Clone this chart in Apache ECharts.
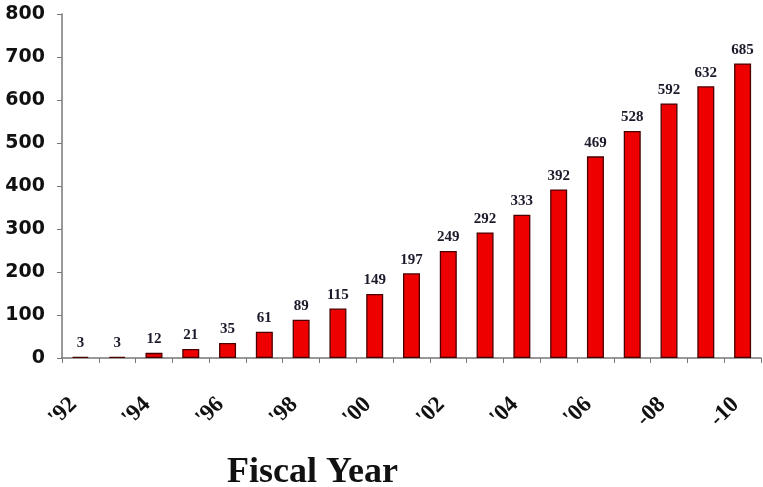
<!DOCTYPE html>
<html><head><meta charset="utf-8">
<script src="https://cdn.jsdelivr.net/npm/echarts@6/dist/echarts.min.js"></script>
<style>html,body{margin:0;padding:0;background:#fff}#c{width:763px;height:487px}</style>
</head><body><div id="c"></div>
<script>
const categories = ["'92","'93","'94","'95","'96","'97","'98","'99","'00","'01","'02","'03","'04","'05","'06","'07","-08","'09","-10"];
const values = [3,3,12,21,35,61,89,115,149,197,249,292,333,392,469,528,592,632,685];
const axisTitle = 'Fiscal Year';

const chart = echarts.init(document.getElementById('c'));
chart.setOption({
  animation: false,
  grid: {left: 62, right: 2, top: 14, bottom: 129, containLabel: false},
  title: {text: axisTitle, left: 222, top: 450,
    textStyle: {fontFamily: 'Liberation Serif', fontWeight: 'bold', fontSize: 36, color: '#111'}},
  xAxis: {
    type: 'category', data: categories,
    axisLine: {lineStyle: {color: '#777', width: 1.5}},
    axisTick: {show: true, alignWithLabel: false, interval: 0, length: 5, lineStyle: {color: '#777'}},
    axisLabel: {interval: 1, rotate: 45, margin: 36, padding: [0, 10, 0, 0],
      fontFamily: 'Liberation Serif', fontWeight: 'bold', fontSize: 23, color: '#111'}
  },
  yAxis: {
    type: 'value', min: 0, max: 800, interval: 100,
    axisLine: {show: true, lineStyle: {color: '#777', width: 1.5}},
    axisTick: {show: true, inside: false, length: 5, lineStyle: {color: '#777'}},
    splitLine: {show: false},
    axisLabel: {margin: 17, fontFamily: 'DejaVu Sans', fontWeight: 'bold', fontSize: 19, color: '#111'}
  },
  series: [{
    type: 'bar', data: values, barWidth: 17,
    itemStyle: {color: '#ee0000', borderColor: '#4a0000', borderWidth: 1.3},
    label: {show: true, position: 'top', distance: 6,
      fontFamily: 'Liberation Serif', fontWeight: 'bold', fontSize: 15, color: '#1a1a2a'}
  }]
});
</script></body></html>
